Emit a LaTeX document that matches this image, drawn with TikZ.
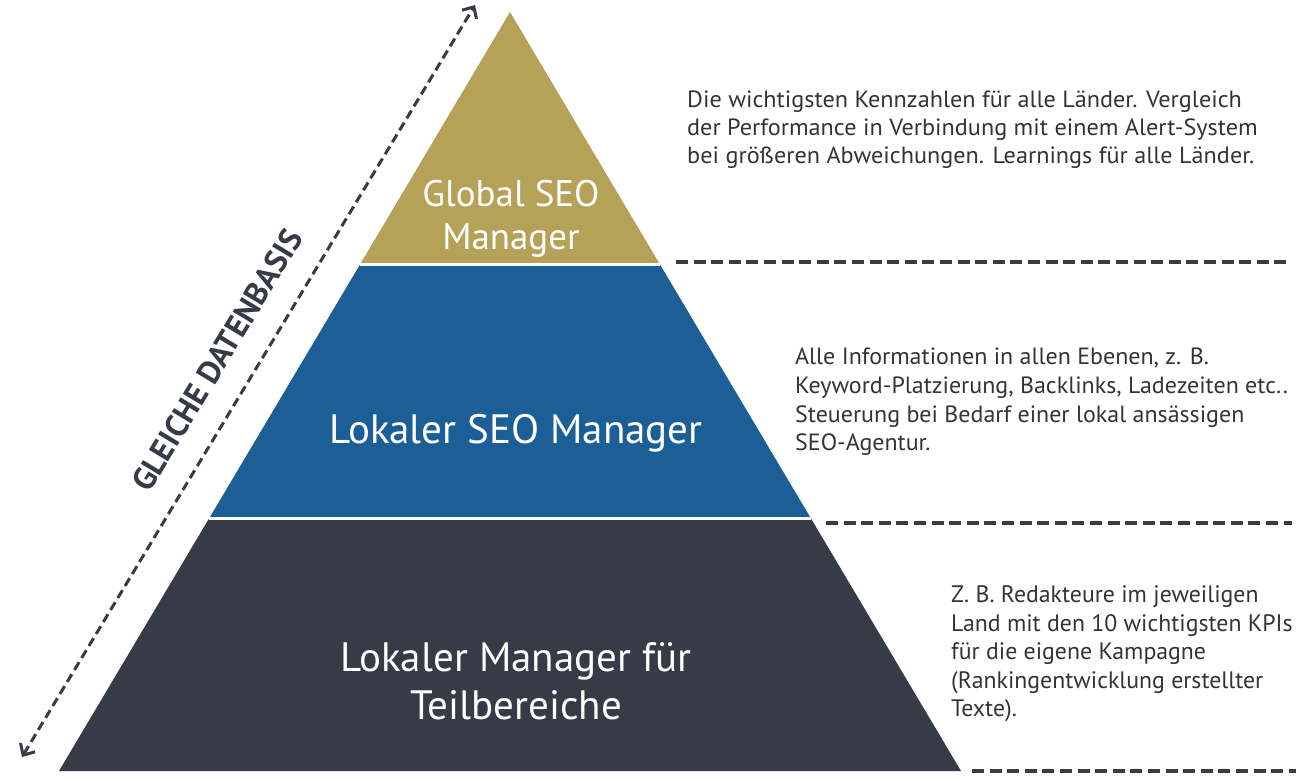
\documentclass[tikz,border=0pt]{standalone}
\usepackage{fontspec}
\setmainfont{PT Sans}
\newfontfamily\descmid[FakeStretch=1.02]{PT Sans}
\newfontfamily\descnorm[FakeStretch=1.03]{PT Sans}
\usetikzlibrary{arrows.meta}
\definecolor{gold}{HTML}{B5A258}
\definecolor{seoblue}{HTML}{1C5F97}
\definecolor{darkband}{HTML}{373A47}
\definecolor{txtdark}{HTML}{333333}
\definecolor{dashgray}{HTML}{3C3C3C}
\tikzset{
  sep/.style={draw=white, line width=3pt},
  level/.style={dashgray, line width=4pt, dash pattern=on 12pt off 5.6pt},
  datarrow/.style={darkband, line width=3pt, dash pattern=on 9pt off 5pt,
     {Straight Barb[length=9pt,width=17pt,line width=3pt]}-{Straight Barb[length=9pt,width=17pt,line width=3pt]}},
  plabel/.style={text=white, align=center, inner sep=0pt},
  desc/.style={text=txtdark, align=left, anchor=west, inner sep=0pt}
}
\begin{document}
\begin{tikzpicture}[x=1pt,y=-1pt]
\useasboundingbox (0,0) rectangle (1312,780);
% pyramid corners
\coordinate (apex) at (510,12);
\coordinate (gl) at (360.3,264);
\coordinate (gr) at (659.7,264);
\coordinate (bl) at (209.3,518);
\coordinate (br) at (810.7,518);
\coordinate (dl) at (59,771);
\coordinate (dr) at (961,771);
\fill[gold] (apex) -- (gr) -- (gl) -- cycle;
\fill[seoblue] (gl) -- (gr) -- (br) -- (bl) -- cycle;
\fill[darkband] (bl) -- (br) -- (dr) -- (dl) -- cycle;
\draw[sep] (gl) -- (gr);
\draw[sep] (bl) -- (br);
% labels
\node[plabel, font=\fontsize{37}{43}\selectfont] (glob) at (511,219) {Global SEO\\Manager};
\node[plabel, font=\fontsize{41}{46}\selectfont] (lok) at (516,433) {Lokaler SEO Manager};
\node[plabel, font=\fontsize{41}{48}\selectfont] (teil) at (516,681) {Lokaler Manager für\\Teilbereiche};
% dashed level lines
\coordinate (l1a) at (676,262);
\coordinate (l1b) at (1291,262);
\coordinate (l2a) at (826,523);
\coordinate (l2b) at (1292,523);
\coordinate (l3a) at (972,771);
\coordinate (l3b) at (1296,771);
\draw[level] (l1a) -- (l1b);
\draw[level] (l2a) -- (l2b);
\draw[level] (l3a) -- (l3b);
% descriptions
\node[desc, font=\descnorm\fontsize{23.5}{28}\selectfont] (d1) at (687,130) {Die wichtigsten Kennzahlen für alle Länder. Vergleich\\der Performance in Verbindung mit einem Alert-System\\bei größeren Abweichungen. Learnings für alle Länder.};
\node[desc, font=\descmid\fontsize{23.5}{28.7}\selectfont] (d2) at (795,402) {Alle Informationen in allen Ebenen, z. B.\\Keyword-Platzierung, Backlinks, Ladezeiten etc..\\Steuerung bei Bedarf einer lokal ansässigen\\SEO-Agentur.};
\node[desc, font=\fontsize{23.8}{28.5}\selectfont] (d3) at (951,654) {Z. B. Redakteure im jeweiligen\\Land mit den 10 wichtigsten KPIs\\für die eigene Kampagne\\(Rankingentwicklung erstellter\\Texte).};
% data arrow
\coordinate (ab) at (22,757);
\coordinate (at) at (475,5);
\draw[datarrow] (ab) -- (at);
\node[text=darkband, font=\bfseries\fontsize{32}{34}\selectfont, rotate=58.9, inner sep=0pt] (gd) at (217,360) {GLEICHE DATENBASIS};
\end{tikzpicture}
\end{document}
